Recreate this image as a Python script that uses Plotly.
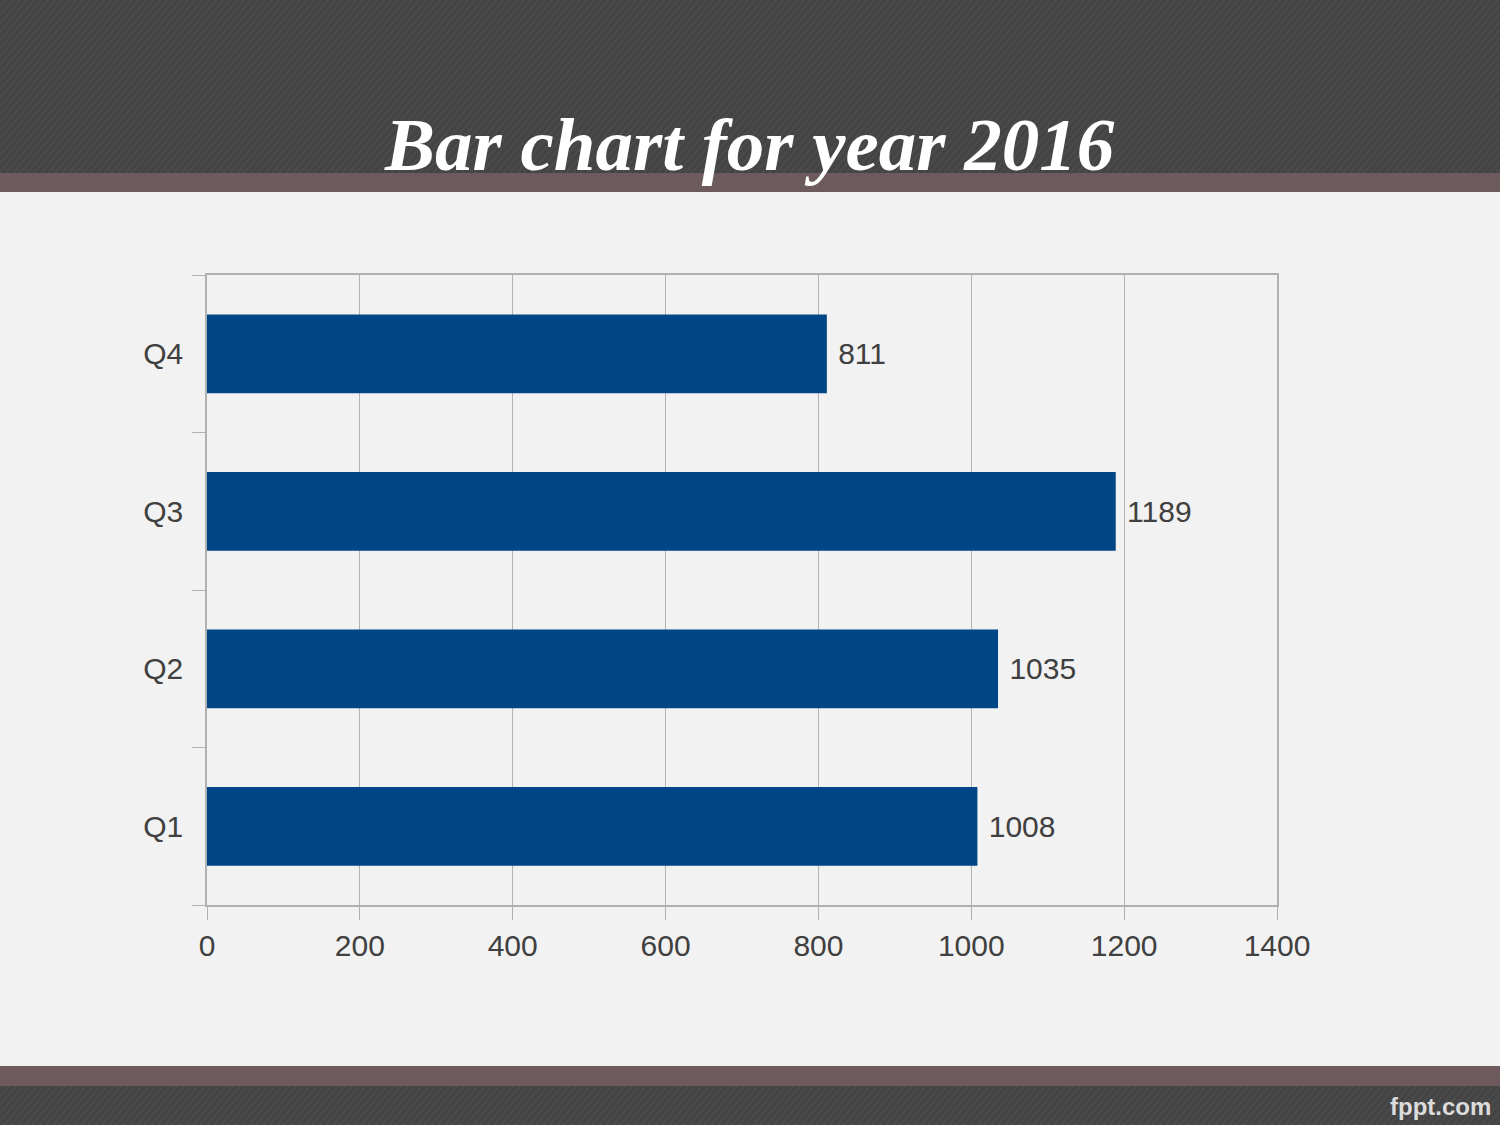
import base64
import plotly.graph_objects as go

# ---- data ----
quarters = ["Q1", "Q2", "Q3", "Q4"]
values = [1008, 1035, 1189, 811]
x_ticks = [0, 200, 400, 600, 800, 1000, 1200, 1400]
title_text = "Bar chart for year 2016"
brand_text = "fppt.com"

# ---- layout geometry (pixels) ----
W, H = 1500, 1125
PL, PR, PT, PB = 207, 1277, 275, 905  # plot area edges


def px_x(px):
    return (px - PL) / (PR - PL)


def px_y(py):
    return (PB - py) / (PB - PT)


def band_svg(width, height, dark_top, dark_h, strip_top, strip_h):
    stripes = []
    step = 7
    for i in range(-height, width + height, step):
        stripes.append(
            f'<line x1="{i}" y1="{height}" x2="{i + height * 0.85}" y2="0" '
            f'stroke="#4b4b4b" stroke-width="2"/>'
        )
    svg = (
        f'<svg xmlns="http://www.w3.org/2000/svg" width="{width}" height="{height}">'
        f'<defs><clipPath id="c"><rect x="0" y="{dark_top}" width="{width}" height="{dark_h}"/></clipPath></defs>'
        f'<rect x="0" y="{dark_top}" width="{width}" height="{dark_h}" fill="#444444"/>'
        f'<g clip-path="url(#c)">{"".join(stripes)}</g>'
        f'<rect x="0" y="{strip_top}" width="{width}" height="{strip_h}" fill="#6c5a5d"/>'
        f'</svg>'
    )
    return "data:image/svg+xml;base64," + base64.b64encode(svg.encode()).decode()


header = band_svg(W, 192, 0, 173, 173, 19)
footer = band_svg(W, 59, 20, 39, 0, 20)

fig = go.Figure()
fig.add_trace(
    go.Bar(
        y=quarters,
        x=values,
        orientation="h",
        marker=dict(color="#004586", line=dict(width=0)),
        text=["\u00a0" + str(v) for v in values],
        textposition="outside",
        textfont=dict(family="Liberation Sans", size=30, color="#404040"),
        cliponaxis=False,
        hoverinfo="skip",
    )
)

fig.update_layout(
    width=W,
    height=H,
    margin=dict(l=PL, r=W - PR, t=PT, b=H - PB, pad=0),
    paper_bgcolor="#f2f2f2",
    plot_bgcolor="#f2f2f2",
    showlegend=False,
    bargap=0.5,
    font=dict(family="Liberation Sans", size=30, color="#404040"),
    xaxis=dict(
        range=[0, 1400],
        tickvals=x_ticks,
        ticktext=[str(t) for t in x_ticks],
        showgrid=True,
        gridcolor="#b3b3b3",
        gridwidth=1,
        showline=True,
        linecolor="#b0b0b0",
        linewidth=1.5,
        mirror=True,
        ticks="outside",
        ticklen=13,
        tickcolor="#b0b0b0",
        tickwidth=1,
        zeroline=False,
        tickfont=dict(family="Liberation Sans", size=30, color="#404040"),
        fixedrange=True,
    ),
    yaxis=dict(
        type="category",
        categoryorder="array",
        categoryarray=quarters,
        range=[-0.5, 3.5],
        showgrid=False,
        showline=True,
        linecolor="#b0b0b0",
        linewidth=1.5,
        mirror=True,
        ticks="outside",
        tickson="boundaries",
        ticklen=13,
        tickcolor="#b0b0b0",
        tickwidth=1,
        ticklabelstandoff=16,
        tickfont=dict(family="Liberation Sans", size=30, color="#404040"),
        fixedrange=True,
    ),
    images=[
        dict(
            source=header,
            xref="paper", yref="paper",
            x=px_x(0), y=px_y(0),
            sizex=px_x(W) - px_x(0), sizey=px_y(0) - px_y(192),
            xanchor="left", yanchor="top",
            sizing="stretch", layer="below",
        ),
        dict(
            source=footer,
            xref="paper", yref="paper",
            x=px_x(0), y=px_y(1066),
            sizex=px_x(W) - px_x(0), sizey=px_y(1066) - px_y(H),
            xanchor="left", yanchor="top",
            sizing="stretch", layer="below",
        ),
    ],
    annotations=[
        dict(
            text=title_text,
            xref="paper", yref="paper",
            x=px_x(749), y=px_y(144),
            xanchor="center", yanchor="middle",
            showarrow=False,
            font=dict(family="Liberation Serif", size=75, color="#ffffff",
                      weight="bold", style="italic"),
        ),
        dict(
            text=brand_text,
            xref="paper", yref="paper",
            x=px_x(1493), y=px_y(1106),
            xanchor="right", yanchor="middle",
            showarrow=False,
            font=dict(family="Liberation Sans", size=24, color="#dcdcdc", weight="bold"),
        ),
    ],
)

fig.write_html("out.html")
